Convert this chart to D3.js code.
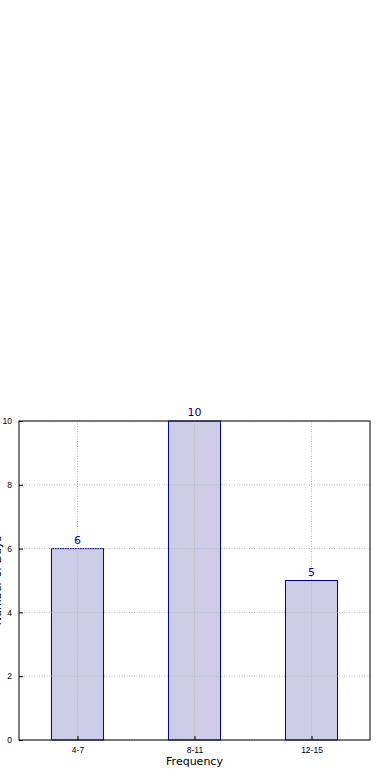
<!DOCTYPE html>
<html>
<head>
<meta charset="utf-8">
<script src="https://cdn.jsdelivr.net/npm/d3@7"></script>
<style>
  html, body { margin: 0; padding: 0; background: #fff; }
  svg { display: block; font-family: "DejaVu Sans", sans-serif; }
  .grid line { stroke: #b8b8b8; stroke-dasharray: 1,1.5; }
</style>
</head>
<body>
<div id="chart"></div>
<script>
const categories = ["4-7", "8-11", "12-15"];
const counts = [6, 10, 5];
const yTicks = [0, 2, 4, 6, 8, 10];

const W = 390, H = 780;
const margin = { top: 421, right: 20, bottom: 40, left: 19 };
const width = W - margin.left - margin.right;
const height = H - margin.top - margin.bottom;

const svg = d3.select("#chart").append("svg").attr("width", W).attr("height", H);
const g = svg.append("g").attr("transform", `translate(${margin.left},${margin.top})`);

const x = d3.scalePoint().domain(categories).range([0, width]).padding(0.5);
const barW = x.step() * 0.445;
const y = d3.scaleLinear().domain([0, 10]).range([height, 0]);

// bars
g.selectAll("rect.bar").data(categories).join("rect")
  .attr("class", "bar")
  .attr("x", d => x(d) - barW / 2)
  .attr("width", barW)
  .attr("y", (d, i) => y(counts[i]))
  .attr("height", (d, i) => height - y(counts[i]))
  .attr("fill", "rgba(0,0,128,0.2)")
  .attr("stroke", "#000080")
  .attr("stroke-width", 1);

// grid on top of bars
const grid = g.append("g").attr("class", "grid");
grid.selectAll("line.h").data(yTicks).join("line")
  .attr("class", "h")
  .attr("x1", 0).attr("x2", width)
  .attr("y1", d => y(d)).attr("y2", d => y(d));
grid.selectAll("line.v").data(categories).join("line")
  .attr("class", "v")
  .attr("x1", d => x(d)).attr("x2", d => x(d))
  .attr("y1", 0).attr("y2", height);

// value labels
g.selectAll("text.val").data(categories).join("text")
  .attr("class", "val")
  .attr("x", d => x(d))
  .attr("y", (d, i) => y(counts[i]) - 5)
  .attr("text-anchor", "middle")
  .attr("font-size", 11)
  .attr("fill", "#000080")
  .text((d, i) => counts[i]);

// axes
const yAxis = g.append("g")
  .call(d3.axisLeft(y).tickValues(yTicks).tickSize(-4).tickPadding(7).tickFormat(d3.format("d")));
yAxis.select(".domain").remove();
yAxis.selectAll("text").attr("font-size", 8.5).attr("fill", "#000");

const xAxis = g.append("g").attr("transform", `translate(0,${height})`)
  .call(d3.axisBottom(x).tickSize(-4).tickPadding(7));
xAxis.select(".domain").remove();
xAxis.selectAll("text").attr("font-size", 8.5).attr("fill", "#000");

// frame
g.append("rect").attr("width", width).attr("height", height)
  .attr("fill", "none").attr("stroke", "#000").attr("stroke-width", 1);

// axis titles
svg.append("text")
  .attr("x", margin.left + width / 2)
  .attr("y", H - 15)
  .attr("text-anchor", "middle")
  .attr("font-size", 11)
  .text("Frequency");

svg.append("text")
  .attr("transform", `translate(1,${margin.top + height / 2}) rotate(-90)`)
  .attr("text-anchor", "middle")
  .attr("font-size", 11)
  .text("Number of Days");
</script>
</body>
</html>
